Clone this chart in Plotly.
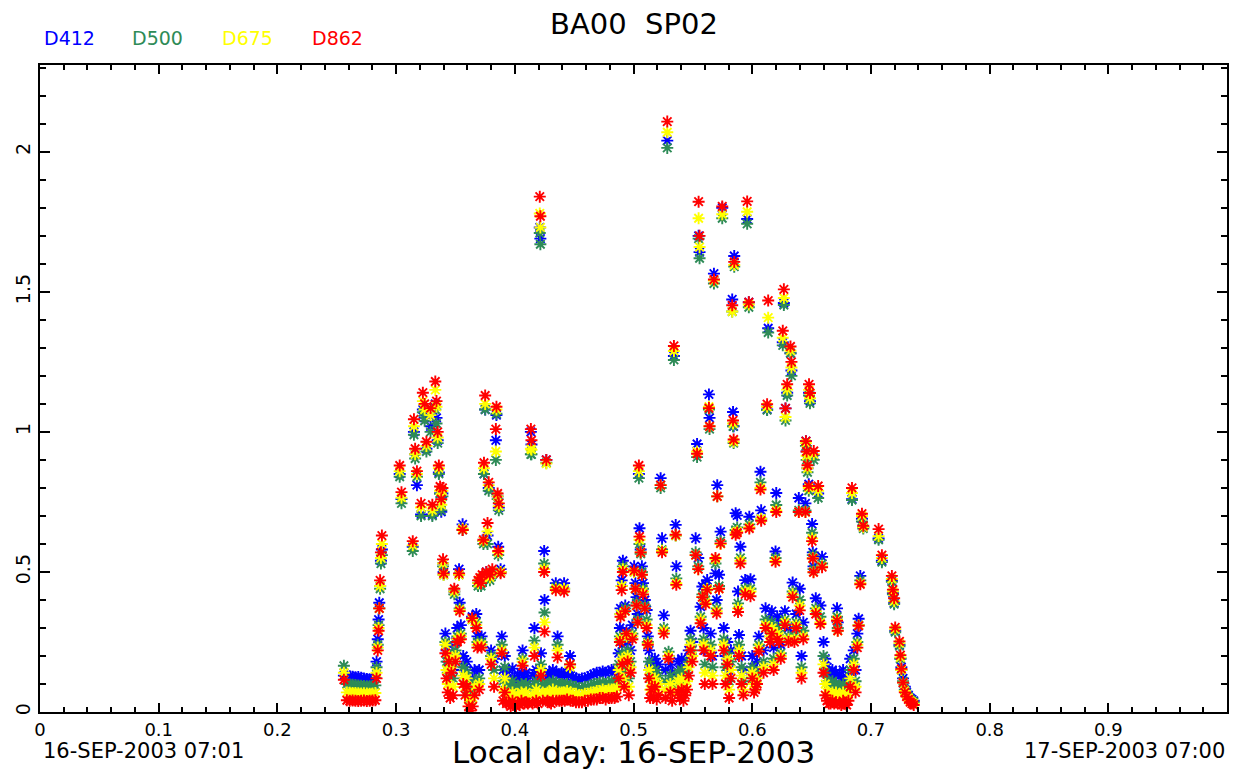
import plotly.graph_objects as go

# ---------------- data ----------------
t = [
    0.2560, 0.2585, 0.2609, 0.2633, 0.2657, 0.2681, 0.2705, 0.2729, 0.2753, 0.2777, 0.2801, 0.2825,
    0.2835, 0.2845, 0.2852, 0.2858, 0.2865, 0.2872, 0.2880,
    0.3030, 0.3045, 0.3140, 0.3150, 0.3160, 0.3175, 0.3210, 0.3225, 0.3240, 0.3255, 0.3290, 0.3305, 0.3330, 0.3340, 0.3350, 0.3360, 0.3370, 0.3380, 0.3390,
    0.3395, 0.3400, 0.3415, 0.3425, 0.3435, 0.3445, 0.3455, 0.3465, 0.3480, 0.3490,
    0.3500, 0.3515, 0.3530, 0.3535, 0.3545, 0.3560, 0.3565, 0.3580, 0.3595, 0.3610,
    0.3625, 0.3640, 0.3645, 0.3660, 0.3675, 0.3685, 0.3690, 0.3700, 0.3705, 0.3715,
    0.3720, 0.3725, 0.3735, 0.3740, 0.3750, 0.3760, 0.3770, 0.3780, 0.3790, 0.3800,
    0.3810, 0.3825, 0.3840, 0.3845, 0.3855, 0.3860, 0.3865, 0.3880, 0.3890, 0.3900,
    0.3915, 0.3930, 0.3950, 0.3965, 0.3980, 0.3995, 0.4010, 0.4025, 0.4040, 0.4055,
    0.4065, 0.4080, 0.4095, 0.4110, 0.4135, 0.4140, 0.4150, 0.4165, 0.4180, 0.4195,
    0.4210, 0.4215, 0.4220, 0.4235, 0.4247, 0.4250, 0.4265, 0.4275, 0.4290, 0.4305,
    0.4320, 0.4345, 0.4350, 0.4360, 0.4375, 0.4395, 0.4415, 0.4420, 0.4440, 0.4465,
    0.4470, 0.4490, 0.4515, 0.4540, 0.4565, 0.4590, 0.4615, 0.4640, 0.4665, 0.4690,
    0.4715, 0.4740, 0.4765, 0.4790, 0.4815, 0.4840, 0.4860,
    0.4875, 0.4885, 0.4890, 0.4900, 0.4905, 0.4910, 0.4920, 0.4930, 0.4940, 0.4950,
    0.4960, 0.4975, 0.4990, 0.5005, 0.5015, 0.5025, 0.5035, 0.5045, 0.5050, 0.5060,
    0.5070, 0.5080, 0.5095, 0.5110, 0.5120, 0.5130, 0.5140, 0.5150, 0.5165, 0.5180,
    0.5195, 0.5210, 0.5228, 0.5240, 0.5255, 0.5270, 0.5284, 0.5295, 0.5310, 0.5325,
    0.5340, 0.5355, 0.5360, 0.5375, 0.5390, 0.5405, 0.5420, 0.5435, 0.5450, 0.5465,
    0.5480, 0.5495,
    0.5523, 0.5535, 0.5545, 0.5548, 0.5556, 0.5565, 0.5580, 0.5590, 0.5600, 0.5607,
    0.5620, 0.5635, 0.5640, 0.5650, 0.5665, 0.5677, 0.5690, 0.5700, 0.5705, 0.5720,
    0.5733, 0.5747, 0.5760, 0.5775, 0.5790, 0.5805, 0.5820, 0.5831, 0.5838, 0.5843,
    0.5848, 0.5860, 0.5873, 0.5880, 0.5888, 0.5900, 0.5910, 0.5925, 0.5940, 0.5957,
    0.5971, 0.5975, 0.5985,
    0.6000, 0.6015, 0.6027, 0.6040, 0.6055, 0.6069, 0.6075, 0.6095, 0.6112, 0.6125,
    0.6134, 0.6150, 0.6165, 0.6180, 0.6196, 0.6202, 0.6210, 0.6225, 0.6240, 0.6257,
    0.6266, 0.6275, 0.6280, 0.6294, 0.6305, 0.6322, 0.6330, 0.6340, 0.6355, 0.6370,
    0.6392, 0.6400, 0.6415, 0.6430, 0.6448, 0.6452, 0.6458, 0.6465, 0.6476, 0.6478,
    0.6486, 0.6504, 0.6510, 0.6516, 0.6518, 0.6535, 0.6555, 0.6574, 0.6588,
    0.6600, 0.6615, 0.6630, 0.6645, 0.6660, 0.6675, 0.6690, 0.6705, 0.6714, 0.6720,
    0.6735, 0.6750, 0.6765, 0.6780, 0.6795, 0.6810, 0.6825, 0.6840, 0.6855, 0.6870,
    0.6885, 0.6896, 0.6910, 0.6924, 0.6935, 0.7064, 0.7092, 0.7176, 0.7185, 0.7195,
    0.7204, 0.7240, 0.7248, 0.7256, 0.7270, 0.7285, 0.7300, 0.7315, 0.7330, 0.7345, 0.7360,
]

d412 = [
    0.130, 0.130, 0.128, 0.126, 0.124, 0.125, 0.122, 0.120, 0.118, 0.117, 0.119, 0.122,
    0.18, 0.26, 0.33, 0.39, 0.45, 0.54, 0.58,
    0.85, 0.76, 0.59, 1.00, 0.92, 0.81, 0.705, 1.08, 1.05, 0.94, 1.02, 0.705, 1.10, 1.05, 0.97, 0.855, 0.78, 0.715, 0.78,
    0.53, 0.50, 0.28, 0.22, 0.18, 0.24, 0.16, 0.20, 0.15, 0.43,
    0.25, 0.30, 0.51, 0.39, 0.31, 0.67, 0.20, 0.16, 0.18, 0.10,
    0.08, 0.34, 0.12, 0.15, 0.35, 0.27, 0.46, 0.15, 0.47, 0.46,
    0.27, 0.48, 0.61, 0.85, 1.08, 0.50, 0.63, 0.80, 0.48, 0.22,
    0.50, 0.19, 0.97, 1.06, 0.77, 0.59, 0.73, 0.51, 0.27, 0.15,
    0.20, 0.13, 0.15, 0.11, 0.155, 0.12, 0.10, 0.13, 0.11, 0.14,
    0.22, 0.12, 0.14, 0.11, 1.00, 0.955, 0.13, 0.30, 0.15, 0.12,
    1.73, 1.69, 0.21, 0.14, 0.575, 0.40, 0.90, 0.13, 0.14, 0.12,
    0.15, 0.46, 0.14, 0.27, 0.13, 0.14, 0.46, 0.13, 0.14, 0.20,
    0.13, 0.125, 0.12, 0.115, 0.12, 0.12, 0.125, 0.13, 0.135, 0.14,
    0.14, 0.145, 0.14, 0.145, 0.15, 0.145, 0.15,
    0.21, 0.30, 0.37, 0.47, 0.24, 0.54, 0.19, 0.38, 0.29, 0.25,
    0.16, 0.22, 0.31, 0.52, 0.46, 0.41, 0.35, 0.85, 0.656, 0.58,
    0.52, 0.46, 0.40, 0.364, 0.27, 0.22, 0.16, 0.18, 0.16, 0.19,
    0.15, 0.17, 0.835, 0.62, 0.345, 0.15, 2.04, 0.20, 0.17, 0.14,
    1.271, 0.668, 0.52, 0.18, 0.15, 0.19, 0.13, 0.16, 0.18, 0.22,
    0.29, 0.25,
    0.62, 0.957, 0.55, 1.70, 1.642, 0.376, 0.448, 0.30, 0.22, 0.456,
    0.471, 1.134, 1.05, 0.28, 0.20, 1.565, 0.495, 0.40, 0.81, 0.49,
    0.644, 1.80, 0.30, 0.20, 0.25, 0.15, 0.22, 1.473, 1.071, 1.02,
    1.628, 0.71, 0.702, 0.43, 0.275, 0.59, 0.20, 0.15, 0.471, 1.76,
    1.463, 0.697, 0.474,
    0.20, 0.16, 0.142, 0.18, 0.27, 0.858, 0.72, 0.22, 0.37, 1.08,
    1.37, 0.33, 0.36, 0.23, 0.573, 0.782, 0.34, 0.33, 0.24, 1.32,
    1.46, 0.36, 1.084, 1.14, 0.30, 1.281, 1.219, 0.462, 0.30, 0.35,
    0.764, 0.44, 0.20, 0.32, 0.745, 0.967, 0.93, 0.87, 0.813, 1.14,
    1.11, 0.671, 0.57, 0.52, 0.917, 0.406, 0.78, 0.38, 0.554,
    0.25, 0.19, 0.16, 0.14, 0.13, 0.15, 0.12, 0.14, 0.37, 0.32,
    0.13, 0.12, 0.15, 0.11, 0.10, 0.12, 0.19, 0.76, 0.22, 0.15,
    0.28, 0.333, 0.486, 0.69, 0.66, 0.62, 0.54, 0.47, 0.425, 0.39,
    0.29, 0.24, 0.191, 0.16, 0.12, 0.09, 0.07, 0.06, 0.05, 0.045, 0.04,
]

d500 = [
    0.165, 0.100, 0.098, 0.097, 0.096, 0.095, 0.094, 0.093, 0.092, 0.092, 0.093, 0.095,
    0.16, 0.24, 0.31, 0.37, 0.44, 0.53, 0.56,
    0.84, 0.745, 0.575, 0.99, 0.905, 0.84, 0.70, 1.07, 1.04, 0.93, 1.00, 0.70, 1.08, 1.03, 0.96, 0.85, 0.78, 0.72, 0.77,
    0.52, 0.49, 0.25, 0.18, 0.14, 0.21, 0.12, 0.17, 0.12, 0.42,
    0.22, 0.27, 0.49, 0.37, 0.28, 0.65, 0.16, 0.12, 0.14, 0.07,
    0.05, 0.33, 0.08, 0.11, 0.32, 0.25, 0.45, 0.12, 0.46, 0.45,
    0.25, 0.47, 0.60, 0.85, 1.08, 0.49, 0.60, 0.79, 0.47, 0.20,
    0.49, 0.15, 0.90, 1.065, 0.76, 0.56, 0.72, 0.50, 0.24, 0.11,
    0.16, 0.09, 0.10, 0.08, 0.11, 0.085, 0.07, 0.09, 0.08, 0.10,
    0.19, 0.09, 0.10, 0.08, 0.92, 0.92, 0.09, 0.255, 0.11, 0.09,
    1.71, 1.67, 0.17, 0.10, 0.53, 0.355, 0.89, 0.10, 0.10, 0.09,
    0.11, 0.445, 0.10, 0.24, 0.10, 0.10, 0.44, 0.095, 0.10, 0.17,
    0.095, 0.09, 0.09, 0.085, 0.085, 0.09, 0.09, 0.095, 0.10, 0.10,
    0.105, 0.105, 0.10, 0.105, 0.11, 0.105, 0.11,
    0.17, 0.27, 0.35, 0.45, 0.21, 0.52, 0.15, 0.37, 0.27, 0.22,
    0.12, 0.18, 0.28, 0.50, 0.44, 0.39, 0.33, 0.835, 0.60, 0.565,
    0.50, 0.44, 0.38, 0.33, 0.25, 0.18, 0.12, 0.14, 0.12, 0.15,
    0.11, 0.13, 0.80, 0.58, 0.30, 0.11, 2.014, 0.215, 0.13, 0.10,
    1.257, 0.63, 0.477, 0.14, 0.11, 0.15, 0.10, 0.12, 0.14, 0.18,
    0.26, 0.22,
    0.57, 0.91, 0.52, 1.69, 1.62, 0.34, 0.42, 0.26, 0.17, 0.40,
    0.44, 1.08, 1.01, 0.24, 0.16, 1.53, 0.53, 0.37, 0.77, 0.45,
    0.61, 1.763, 0.26, 0.16, 0.21, 0.11, 0.18, 1.43, 1.02, 0.96,
    1.59, 0.65, 0.659, 0.388, 0.24, 0.55, 0.16, 0.11, 0.44, 1.743,
    1.445, 0.67, 0.44,
    0.16, 0.12, 0.11, 0.14, 0.24, 0.82, 0.69, 0.18, 0.33, 1.078,
    1.355, 0.29, 0.32, 0.19, 0.55, 0.739, 0.30, 0.29, 0.21, 1.309,
    1.453, 0.33, 1.041, 1.13, 0.27, 1.281, 1.20, 0.43, 0.27, 0.32,
    0.72, 0.40, 0.16, 0.29, 0.72, 0.95, 0.90, 0.856, 0.79, 1.13,
    1.102, 0.64, 0.56, 0.51, 0.90, 0.37, 0.764, 0.34, 0.53,
    0.20, 0.14, 0.11, 0.10, 0.09, 0.11, 0.09, 0.10, 0.34, 0.30,
    0.09, 0.08, 0.10, 0.08, 0.07, 0.09, 0.15, 0.757, 0.19, 0.11,
    0.25, 0.31, 0.47, 0.68, 0.655, 0.615, 0.535, 0.465, 0.42, 0.385,
    0.285, 0.235, 0.19, 0.15, 0.11, 0.08, 0.065, 0.055, 0.045, 0.04, 0.035,
]

d675 = [
    0.140, 0.070, 0.069, 0.068, 0.068, 0.067, 0.066, 0.067, 0.066, 0.065, 0.066, 0.068,
    0.14, 0.23, 0.30, 0.37, 0.45, 0.55, 0.60,
    0.86, 0.765, 0.595, 1.02, 0.92, 0.85, 0.73, 1.11, 1.08, 0.95, 1.06, 0.72, 1.15, 1.09, 0.98, 0.87, 0.79, 0.74, 0.79,
    0.53, 0.49, 0.24, 0.15, 0.10, 0.20, 0.09, 0.16, 0.09, 0.43,
    0.20, 0.26, 0.49, 0.365, 0.27, 0.655, 0.13, 0.09, 0.12, 0.05,
    0.03, 0.33, 0.05, 0.09, 0.31, 0.24, 0.46, 0.10, 0.47, 0.46,
    0.24, 0.48, 0.61, 0.87, 1.10, 0.49, 0.645, 0.81, 0.48, 0.19,
    0.50, 0.12, 0.93, 1.08, 0.77, 0.57, 0.735, 0.50, 0.22, 0.08,
    0.12, 0.06, 0.065, 0.05, 0.07, 0.06, 0.045, 0.06, 0.05, 0.07,
    0.18, 0.06, 0.07, 0.055, 0.94, 0.936, 0.06, 0.23, 0.08, 0.06,
    1.78, 1.73, 0.15, 0.07, 0.51, 0.32, 0.887, 0.07, 0.07, 0.06,
    0.08, 0.44, 0.07, 0.22, 0.07, 0.07, 0.44, 0.07, 0.075, 0.16,
    0.07, 0.065, 0.065, 0.06, 0.06, 0.065, 0.065, 0.07, 0.07, 0.075,
    0.075, 0.08, 0.075, 0.08, 0.08, 0.08, 0.085,
    0.15, 0.26, 0.35, 0.45, 0.19, 0.51, 0.12, 0.36, 0.27, 0.20,
    0.09, 0.16, 0.27, 0.50, 0.44, 0.38, 0.32, 0.86, 0.615, 0.57,
    0.49, 0.43, 0.37, 0.31, 0.245, 0.15, 0.08, 0.11, 0.09, 0.12,
    0.08, 0.10, 0.81, 0.575, 0.29, 0.08, 2.07, 0.20, 0.10, 0.07,
    1.289, 0.63, 0.46, 0.11, 0.08, 0.12, 0.07, 0.09, 0.11, 0.16,
    0.24, 0.20,
    0.56, 0.93, 0.51, 1.763, 1.66, 0.33, 0.41, 0.24, 0.14, 0.39,
    0.44, 1.09, 1.02, 0.22, 0.13, 1.54, 0.545, 0.36, 0.77, 0.44,
    0.60, 1.777, 0.24, 0.13, 0.19, 0.08, 0.15, 1.43, 1.03, 0.965,
    1.596, 0.64, 0.645, 0.37, 0.22, 0.54, 0.13, 0.08, 0.43, 1.786,
    1.455, 0.66, 0.43,
    0.14, 0.10, 0.09, 0.12, 0.23, 0.80, 0.69, 0.16, 0.31, 1.09,
    1.408, 0.27, 0.30, 0.17, 0.54, 0.72, 0.28, 0.27, 0.20, 1.336,
    1.478, 0.32, 1.053, 1.151, 0.26, 1.29, 1.23, 0.42, 0.26, 0.31,
    0.714, 0.38, 0.14, 0.27, 0.714, 0.96, 0.915, 0.87, 0.80, 1.15,
    1.12, 0.62, 0.55, 0.50, 0.92, 0.36, 0.79, 0.32, 0.52,
    0.17, 0.10, 0.07, 0.06, 0.06, 0.07, 0.06, 0.07, 0.33, 0.29,
    0.06, 0.055, 0.07, 0.05, 0.05, 0.06, 0.12, 0.782, 0.17, 0.09,
    0.24, 0.31, 0.46, 0.70, 0.66, 0.628, 0.55, 0.475, 0.43, 0.395,
    0.295, 0.245, 0.195, 0.15, 0.105, 0.075, 0.06, 0.05, 0.04, 0.035, 0.03,
]

d862 = [
    0.115, 0.042, 0.040, 0.041, 0.040, 0.039, 0.040, 0.041, 0.039, 0.040, 0.041, 0.042,
    0.12, 0.22, 0.29, 0.37, 0.47, 0.57, 0.63,
    0.88, 0.785, 0.61, 1.045, 0.94, 0.86, 0.745, 1.14, 1.10, 0.965, 1.085, 0.74, 1.18, 1.11, 1.00, 0.88, 0.805, 0.76, 0.80,
    0.545, 0.495, 0.21, 0.12, 0.07, 0.18, 0.05, 0.14, 0.06, 0.44,
    0.18, 0.25, 0.495, 0.36, 0.26, 0.65, 0.10, 0.06, 0.09, 0.02,
    0.005, 0.335, 0.02, 0.06, 0.30, 0.23, 0.47, 0.08, 0.48, 0.46,
    0.23, 0.49, 0.615, 0.89, 1.13, 0.50, 0.675, 0.82, 0.49, 0.17,
    0.51, 0.09, 1.01, 1.09, 0.78, 0.575, 0.745, 0.495, 0.21, 0.04,
    0.07, 0.03, 0.03, 0.02, 0.04, 0.025, 0.02, 0.03, 0.025, 0.04,
    0.165, 0.03, 0.035, 0.03, 1.01, 0.97, 0.03, 0.20, 0.04, 0.03,
    1.84, 1.77, 0.13, 0.04, 0.50, 0.287, 0.90, 0.04, 0.035, 0.03,
    0.04, 0.435, 0.04, 0.195, 0.04, 0.04, 0.43, 0.04, 0.045, 0.17,
    0.04, 0.04, 0.035, 0.035, 0.035, 0.04, 0.04, 0.045, 0.045, 0.045,
    0.05, 0.05, 0.045, 0.05, 0.05, 0.05, 0.055,
    0.12, 0.25, 0.34, 0.435, 0.17, 0.50, 0.09, 0.36, 0.28, 0.18,
    0.06, 0.14, 0.26, 0.505, 0.44, 0.38, 0.32, 0.88, 0.626, 0.57,
    0.49, 0.42, 0.37, 0.30, 0.24, 0.12, 0.05, 0.08, 0.05, 0.09,
    0.045, 0.06, 0.81, 0.57, 0.28, 0.05, 2.108, 0.19, 0.07, 0.04,
    1.307, 0.633, 0.454, 0.07, 0.05, 0.08, 0.04, 0.06, 0.08, 0.13,
    0.22, 0.18,
    0.56, 0.922, 0.51, 1.822, 1.70, 0.317, 0.41, 0.22, 0.10, 0.385,
    0.436, 1.085, 1.02, 0.20, 0.10, 1.544, 0.55, 0.352, 0.77, 0.44,
    0.602, 1.805, 0.22, 0.10, 0.17, 0.05, 0.12, 1.452, 1.041, 0.973,
    1.607, 0.633, 0.64, 0.357, 0.20, 0.53, 0.10, 0.06, 0.42, 1.823,
    1.463, 0.655, 0.413,
    0.12, 0.07, 0.08, 0.10, 0.216, 0.794, 0.683, 0.14, 0.30, 1.099,
    1.469, 0.25, 0.28, 0.15, 0.536, 0.714, 0.26, 0.25, 0.19, 1.361,
    1.509, 0.31, 1.084, 1.17, 0.25, 1.305, 1.25, 0.41, 0.25, 0.30,
    0.714, 0.363, 0.12, 0.26, 0.714, 0.967, 0.93, 0.881, 0.807, 1.17,
    1.139, 0.61, 0.548, 0.499, 0.932, 0.35, 0.807, 0.314, 0.517,
    0.14, 0.06, 0.04, 0.03, 0.03, 0.04, 0.03, 0.035, 0.326, 0.29,
    0.03, 0.025, 0.04, 0.03, 0.025, 0.04, 0.09, 0.80, 0.15, 0.07,
    0.23, 0.308, 0.456, 0.708, 0.665, 0.653, 0.56, 0.486, 0.437, 0.406,
    0.302, 0.252, 0.203, 0.154, 0.105, 0.07, 0.055, 0.045, 0.035, 0.03, 0.025,
]

series_names = ["D412", "D500", "D675", "D862"]
series_colors = ["#0000ff", "#2e8b57", "#ffff00", "#ff0000"]
series_values = [d412, d500, d675, d862]

x_tick_values = [0, 0.1, 0.2, 0.3, 0.4, 0.5, 0.6, 0.7, 0.8, 0.9]
x_tick_labels = ["0", "0.1", "0.2", "0.3", "0.4", "0.5", "0.6", "0.7", "0.8", "0.9"]
y_tick_values = [0, 0.5, 1, 1.5, 2]
y_tick_labels = ["0", "0.5", "1", "1.5", "2"]

title_text = "BA00  SP02"
axis_title = "Local day: 16-SEP-2003"
start_label = "16-SEP-2003 07:01"
end_label = "17-SEP-2003 07:00"

# ---------------- figure ----------------
FONT = "DejaVu Sans"
W, H = 1235, 773
ML, MR, MT, MB = 40, 6, 65, 61
PW, PH = W - ML - MR, H - MT - MB

fig = go.Figure()
for name, col, vals in zip(series_names, series_colors, series_values):
    fig.add_trace(go.Scatter(
        x=t, y=vals, mode="markers", name=name,
        marker=dict(symbol="asterisk-open", size=10, color=col,
                    line=dict(color=col, width=1.9)),
        showlegend=False, hoverinfo="skip",
    ))


def px_x(px):
    return (px - ML) / PW


def px_y(py):
    return (H - MB - py) / PH


annotations = []
for name, col, left in zip(series_names, series_colors, [42, 130, 220, 310]):
    annotations.append(dict(text=name, x=px_x(left), y=px_y(38), xref="paper", yref="paper",
                            xanchor="left", yanchor="middle", showarrow=False,
                            font=dict(family=FONT, size=19, color=col)))
annotations.append(dict(text=title_text, x=px_x(635), y=px_y(24), xref="paper", yref="paper",
                        xanchor="center", yanchor="middle", showarrow=False,
                        font=dict(family=FONT, size=29, color="black")))
annotations.append(dict(text=start_label, x=px_x(41), y=px_y(751), xref="paper", yref="paper",
                        xanchor="left", yanchor="middle", showarrow=False,
                        font=dict(family=FONT, size=21, color="black")))
annotations.append(dict(text=end_label, x=px_x(1229), y=px_y(751), xref="paper", yref="paper",
                        xanchor="right", yanchor="middle", showarrow=False,
                        font=dict(family=FONT, size=21, color="black")))
annotations.append(dict(text=axis_title, x=px_x(635), y=px_y(752), xref="paper", yref="paper",
                        xanchor="center", yanchor="middle", showarrow=False, borderpad=0,
                        font=dict(family=FONT, size=31, color="black")))

fig.update_layout(
    width=W, height=H,
    margin=dict(l=ML, r=MR, t=MT, b=MB, pad=0),
    paper_bgcolor="white", plot_bgcolor="white",
    showlegend=False,
    font=dict(family=FONT, color="black"),
    annotations=annotations,
)

fig.update_xaxes(
    range=[0, 0.9999], showgrid=False, zeroline=False,
    showline=True, linecolor="black", linewidth=2, mirror="ticks",
    tickmode="array", tickvals=x_tick_values, ticktext=x_tick_labels,
    ticks="inside", ticklen=9, tickwidth=1.5, tickcolor="black",
    tickfont=dict(family=FONT, size=18, color="black"),
    minor=dict(dtick=0.02, tick0=0, ticks="inside", ticklen=5, tickwidth=1.5, tickcolor="black", showgrid=False),
)
fig.update_yaxes(
    range=[0, 2.31], showgrid=False, zeroline=False,
    showline=True, linecolor="black", linewidth=2, mirror="ticks",
    tickmode="array", tickvals=y_tick_values, ticktext=y_tick_labels,
    ticks="inside", ticklen=10, tickwidth=1.5, tickcolor="black", tickangle=-90,
    tickfont=dict(family=FONT, size=19, color="black"),
    minor=dict(dtick=0.1, tick0=0, ticks="inside", ticklen=6, tickwidth=1.5, tickcolor="black", showgrid=False),
)

fig.write_html("out.html")
